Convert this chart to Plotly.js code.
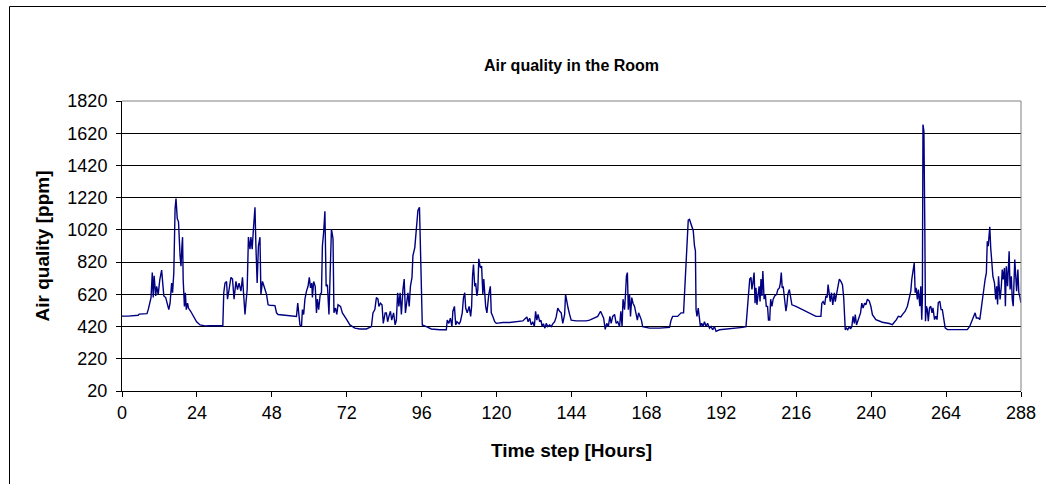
<!DOCTYPE html>
<html>
<head>
<meta charset="utf-8">
<script src="https://cdn.plot.ly/plotly-3.0.1.min.js"></script>
<style>
  html, body { margin: 0; padding: 0; background: #fff; }
  #chart { width: 1046px; height: 484px; }
</style>
</head>
<body>
<div id="chart"></div>
<script>
// Readings [hour, ppm], grouped by two-day blocks
const block0to48 = [
  [0,485],[2,485],[5.2,490],[5.5,497],[8,500],[8.4,525],[9.3,600],[9.7,755],[10,600],[10.3,735],
  [10.8,610],[11.1,670],[11.6,620],[12.1,710],[12.7,770],[13,710],[13.4,610],[14,600],[14.5,555],
  [15,525],[15.4,565],[15.9,690],[16.2,630],[16.6,755],[17,1150],[17.3,1215],[17.7,1090],[18.1,1070],
  [18.6,860],[18.9,795],[19.2,920],[19.4,975],[19.6,710],[20,545],[20.3,630],[20.6,525],[21,565],
  [21.3,535],[22,515],[22.8,485],[23.9,450],[25,430],[26.6,424],[28.2,425],[32.3,425],[32.6,630],
  [33,690],[33.5,700],[33.8,590],[34.3,650],[34.9,725],[35.4,715],[35.9,590],[36.5,700],[37,650],
  [37.5,690],[38.1,640],[38.6,725],[39,565],[39.4,495],[39.7,565],[40.1,650],[40.5,975],[41,900],
  [41.3,975],[41.7,900],[42.1,1025],[42.6,1160],[42.9,920],[43.3,690],[43.7,920],[44.2,975],
  [44.5,620],[45,700],[45.5,670],[46.3,620],[46.8,555],[47.4,552]
];
const block48to96 = [
  [49,550],[49.5,505],[50,495],[52.2,490],[53.8,487],[55.9,483],[56.3,565],[56.6,505],[57,430],
  [57.5,420],[57.8,525],[58.2,495],[58.6,590],[59.1,640],[59.6,670],[60,725],[60.4,660],[60.8,690],
  [61,600],[61.4,700],[61.9,670],[62.3,505],[62.6,590],[63,525],[63.5,620],[63.9,630],[64.2,920],
  [64.6,1005],[65,1135],[65.4,670],[65.8,680],[66.3,495],[66.8,795],[67.1,1025],[67.6,965],
  [67.9,505],[68.4,535],[68.8,495],[69.2,555],[70,545],[70.6,505],[71.4,483],[72.1,460],[73,430],
  [74.6,410],[76.2,405],[78.3,405],[79.9,420],[80.4,505],[81,525],[81.5,600],[82,590],[82.3,545],
  [82.8,565],[83.3,555],[83.7,440],[84.3,505],[84.7,505],[85.1,450],[85.5,483],[86,515],[86.4,460],
  [87,505],[87.5,430],[87.9,460],[88.3,630],[88.7,545],[89.1,630],[89.5,495],[90,650],[90.4,715],
  [90.8,505],[91.2,590],[91.6,630],[92,545],[92.4,670],[92.9,725],[93.2,860],[93.8,910],[94.3,1025],
  [94.8,1140],[95.3,1160],[95.7,815],[95.9,483]
];
const block96to144 = [
  [96.2,430],[97.5,420],[99.1,405],[101.8,400],[103.9,400],[104.2,460],[104.7,440],[105.2,472],
  [105.7,420],[106,515],[106.5,545],[106.9,430],[107.3,450],[108,437],[108.4,450],[109,505],
  [109.4,600],[109.8,630],[110.1,535],[110.6,505],[111.2,545],[111.7,483],[112,545],[112.3,735],
  [112.6,805],[113,670],[113.3,690],[113.7,610],[114,650],[114.3,840],[114.8,785],[115.2,795],
  [115.6,620],[115.9,715],[116.5,545],[116.9,505],[117.2,565],[117.5,620],[118,670],[118.3,505],
  [118.8,483],[119.4,450],[119.9,440],[122,445],[124.2,445],[126.3,450],[128.4,455],[129.7,480],
  [130.1,450],[130.6,472],[131.1,430],[131.6,450],[132.1,420],[132.5,515],[132.9,460],[133.3,495],
  [133.8,450],[134.2,460],[134.6,420],[135,437],[135.5,410],[135.9,440],[136.4,420],[137,430],
  [137.5,420],[138,437],[138.6,450],[139.1,480],[139.6,535],[140.2,515],[140.7,505],[141.2,440],
  [141.8,495],[142.1,620],[142.5,565],[142.9,535],[143.4,495]
];
const block144to192 = [
  [143.9,460],[145.5,455],[148.7,455],[149.8,460],[151.4,472],[152.4,483],[153.3,515],[153.8,495],
  [154.3,472],[154.8,403],[155.3,440],[155.8,420],[156.3,483],[156.7,440],[157.2,483],[157.8,495],
  [158.3,440],[158.8,450],[159.4,420],[159.8,515],[160.2,420],[160.5,590],[161,525],[161.3,620],
  [161.6,735],[161.9,755],[162.2,525],[162.6,620],[162.9,483],[163.3,600],[163.7,565],[164.2,545],
  [164.7,505],[165.1,460],[165.5,505],[166,483],[166.4,460],[166.8,420],[169,410],[172.2,410],
  [175.4,415],[175.9,460],[176.4,483],[178,483],[179.1,505],[179.9,505],[180.3,670],[180.7,815],
  [181.1,965],[181.4,1080],[181.8,1085],[182.2,1060],[182.6,1035],[183,1015],[183.4,920],[183.7,890],
  [183.9,525],[184.2,483],[184.6,535],[185,460],[185.3,420],[185.7,440],[186.1,420],[186.6,450],
  [187.1,420],[187.6,440],[188.2,410],[188.7,420],[189.2,400],[189.8,420],[190.3,390],[191.4,400]
];
const block192to240 = [
  [194.6,405],[195.6,410],[198.8,415],[199.9,420],[200.4,545],[200.7,650],[201.1,715],[201.5,725],
  [201.8,650],[202.1,690],[202.5,755],[202.8,565],[203.1,660],[203.4,555],[203.7,630],[204.1,670],
  [204.4,575],[204.7,715],[205,610],[205.3,765],[205.7,590],[206.1,620],[206.4,545],[206.8,545],
  [207.1,460],[207.5,460],[207.8,590],[208.2,545],[208.6,590],[209.1,610],[209.7,620],[210.1,650],
  [210.6,660],[210.9,690],[211.2,755],[211.5,660],[211.8,670],[212.3,590],[212.7,515],[213,555],
  [213.3,620],[213.8,650],[214.1,610],[214.6,555],[215.9,545],[218,525],[220.2,508],[222.3,483],
  [223.9,483],[224.2,565],[224.6,575],[225.1,555],[225.5,610],[225.9,600],[226.2,680],[226.6,630],
  [226.9,575],[227.3,630],[227.7,555],[228.2,630],[228.5,575],[228.9,620],[229.3,670],[229.8,715],
  [230.3,700],[230.8,680],[231.2,600],[231.5,430],[231.7,400],[232.1,410],[232.5,400],[233,420],
  [233.4,405],[233.8,420],[234.2,483],[234.6,440],[234.9,495],[235.3,430],[235.7,450],[236.2,472],
  [236.6,505],[237,565],[237.4,535],[237.9,565],[238.3,555],[238.8,590],[239.4,578]
];
const block240to288 = [
  [239.9,546],[240.4,494],[241.5,463],[243.6,447],[245.8,439],[246.8,432],[247.4,447],[248.1,463],
  [248.7,484],[249.5,480],[250,494],[250.9,515],[251.6,546],[252.2,608],[252.7,640],[253,712],
  [253.4,774],[253.8,815],[254.1,630],[254.4,660],[254.8,588],[255.1,650],[255.6,546],[255.9,670],
  [256.2,463],[256.4,588],[256.6,1674],[256.9,1632],[257.2,1000],[257.4,453],[257.7,546],[258,525],
  [258.3,453],[258.7,536],[259.1,546],[259.5,505],[259.8,536],[260.3,463],[260.7,484],[261.1,463],
  [261.5,567],[262,577],[262.4,525],[262.8,525],[263.3,463],[263.7,412],[264.4,401],[266,401],
  [268.2,401],[270.8,401],[271.6,422],[272.2,453],[272.7,484],[273.3,505],[273.7,473],[274.3,473],
  [274.8,463],[275.2,525],[275.6,608],[276.1,660],[276.5,712],[276.9,753],[277.2,950],[277.5,919],
  [278,1039],[278.3,908],[278.6,815],[279,732],[279.5,691],[279.9,588],[280.2,670],[280.5,557],
  [280.8,732],[281.3,588],[281.7,670],[282,774],[282.3,712],[282.7,784],[283,546],[283.3,794],
  [283.7,670],[284.2,888],[284.5,650],[284.9,732],[285.2,588],[285.5,546],[286,836],[286.3,732],
  [286.6,640],[287,774],[287.3,630],[287.6,608],[288,567]
];

const xTickVals = [0,24,48,72,96,120,144,168,192,216,240,264,288];
const yTickVals = [20,220,420,620,820,1020,1220,1420,1620,1820];

const readings = [].concat(block0to48, block48to96, block96to144, block144to192, block192to240, block240to288);
const hours = readings.map(r => r[0]);
const ppm = readings.map(r => r[1]);

const trace = {
  x: hours, y: ppm, type: 'scatter', mode: 'lines',
  line: { color: '#000080', width: 1.4 },
  hoverinfo: 'x+y', showlegend: false
};

const FONT = 'Liberation Sans, Arial, sans-serif';
const layout = {
  width: 1046, height: 484,
  margin: { l: 122, r: 25, t: 101, b: 93 },
  paper_bgcolor: '#ffffff', plot_bgcolor: '#ffffff',
  font: { family: FONT, color: '#000000', size: 18 },
  showlegend: false,
  title: {
    text: '<b>Air quality in the Room</b>',
    font: { family: FONT, size: 16, color: '#000000' },
    xref: 'paper', x: 0.5, xanchor: 'center',
    yref: 'container', y: 1 - 65/484, yanchor: 'middle'
  },
  xaxis: {
    range: [0, 288], tickvals: xTickVals, ticktext: xTickVals.map(String),
    ticks: 'outside', ticklen: 5, tickwidth: 1, tickcolor: '#000000',
    showline: true, linecolor: '#000000', linewidth: 1,
    showgrid: false, zeroline: false, automargin: false,
    tickfont: { family: FONT, size: 18 },
    title: { text: '<b>Time step [Hours]</b>', font: { family: FONT, size: 19 }, standoff: 22 }
  },
  yaxis: {
    range: [20, 1820], tickvals: yTickVals, ticktext: yTickVals.map(String),
    ticks: 'outside', ticklen: 5, tickwidth: 1, tickcolor: '#000000',
    ticklabelstandoff: 5,
    showline: true, linecolor: '#000000', linewidth: 1,
    showgrid: true, gridcolor: '#000000', gridwidth: 1, zeroline: false, automargin: false,
    tickfont: { family: FONT, size: 18 },
    title: { text: '<b>Air quality [ppm]</b>', font: { family: FONT, size: 19 }, standoff: 12 }
  },
  shapes: [
    // plot-area border (grey top and right edges)
    { type: 'line', xref: 'paper', yref: 'paper', x0: 0, x1: 1, y0: 1, y1: 1,
      line: { color: '#808080', width: 1 }, layer: 'above' },
    { type: 'line', xref: 'paper', yref: 'paper', x0: 1, x1: 1, y0: 0, y1: 1,
      line: { color: '#808080', width: 1 }, layer: 'above' },
    // outer chart border
    { type: 'rect', xref: 'paper', yref: 'paper',
      x0: (9.5 - 122) / 899, x1: (1060 - 122) / 899,
      y0: (391 - 500) / 290, y1: (391 - 6.5) / 290,
      line: { color: '#000000', width: 1 }, fillcolor: 'rgba(0,0,0,0)', layer: 'below' }
  ]
};

Plotly.newPlot('chart', [trace], layout, { displayModeBar: false, staticPlot: true });
</script>
</body>
</html>
